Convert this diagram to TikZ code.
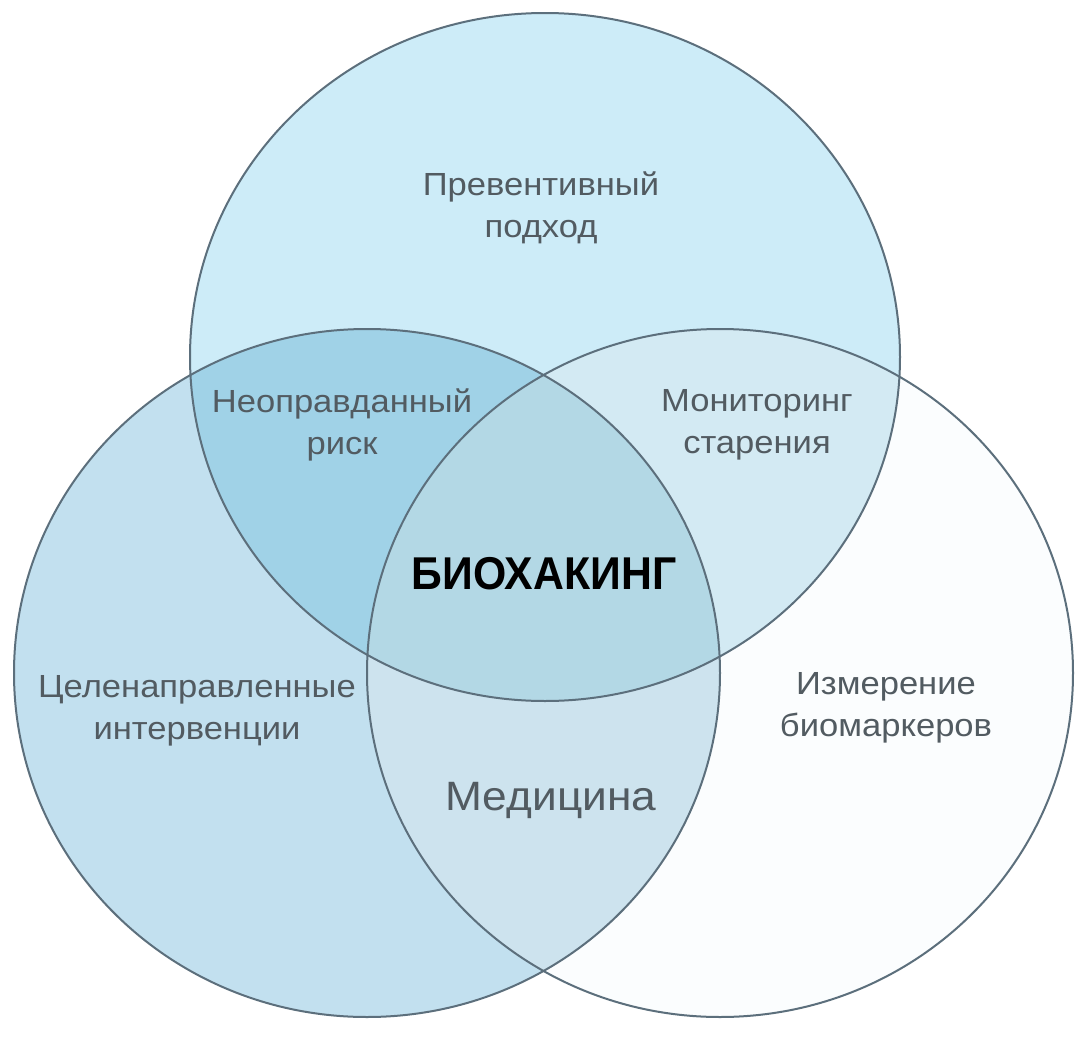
\documentclass[tikz,border=0pt]{standalone}
\usepackage{fontspec}
\setmainfont{Liberation Sans}
\newfontfamily\labelfont{Liberation Sans}[FakeStretch=1.08]
\newfontfamily\titlefont{Liberation Sans}[FakeStretch=0.93]
\definecolor{edgecol}{HTML}{5C6F7C}
\definecolor{txtcol}{HTML}{525B61}
\definecolor{topcol}{HTML}{CDECF8}
\definecolor{leftcol}{HTML}{C2E0EF}
\definecolor{rightcol}{HTML}{FBFDFE}
\definecolor{tlcol}{HTML}{A0D2E7}
\definecolor{trcol}{HTML}{D3EAF3}
\definecolor{lrcol}{HTML}{CDE3EE}
\definecolor{centcol}{HTML}{B3D8E5}
\tikzset{
  lbl/.style={align=center, text=txtcol, inner sep=0pt,
    font={\labelfont\fontsize{32}{42}\selectfont}},
  medlbl/.style={text=txtcol, inner sep=0pt, anchor=base,
    font={\labelfont\fontsize{41}{48}\selectfont}},
  titlelbl/.style={text=black, inner sep=0pt, anchor=base,
    font={\titlefont\bfseries\fontsize{46}{52}\selectfont}},
  ring/.style={draw=edgecol, line width=2pt}
}
\begin{document}
\begin{tikzpicture}[x=1pt,y=-1pt]
  \useasboundingbox[fill=white] (0,0) rectangle (1080,1052);
  \def\topC{(545,357) ellipse [x radius=355pt, y radius=344pt]}
  \def\leftC{(367,673) ellipse [x radius=353pt, y radius=344pt]}
  \def\rightC{(720,673) ellipse [x radius=353pt, y radius=344pt]}
  % single-set fills
  \fill[rightcol] \rightC;
  \fill[leftcol] \leftC;
  \fill[topcol] \topC;
  % pairwise overlaps
  \begin{scope}
    \clip \topC;
    \fill[tlcol] \leftC;
    \fill[trcol] \rightC;
  \end{scope}
  \begin{scope}
    \clip \leftC;
    \fill[lrcol] \rightC;
  \end{scope}
  % centre
  \begin{scope}
    \clip \topC;
    \clip \leftC;
    \fill[centcol] \rightC;
  \end{scope}
  % outlines
  \draw[ring] \topC;
  \draw[ring] \leftC;
  \draw[ring] \rightC;
  % labels
  \node[lbl] (prev) at (541,207.5) {Превентивный\\подход};
  \node[lbl] (risk) at (342,424.5) {Неоправданный\\риск};
  \node[lbl] (monit) at (757,424.5) {Мониторинг\\старения};
  \node[lbl] (interv) at (197,711) {Целенаправленные\\интервенции};
  \node[lbl] (biom) at (886,707.5) {Измерение\\биомаркеров};
  \node[medlbl] (med) at (551,810) {Медицина};
  \node[titlelbl] (bio) at (544,589) {БИОХАКИНГ};
\end{tikzpicture}
\end{document}
